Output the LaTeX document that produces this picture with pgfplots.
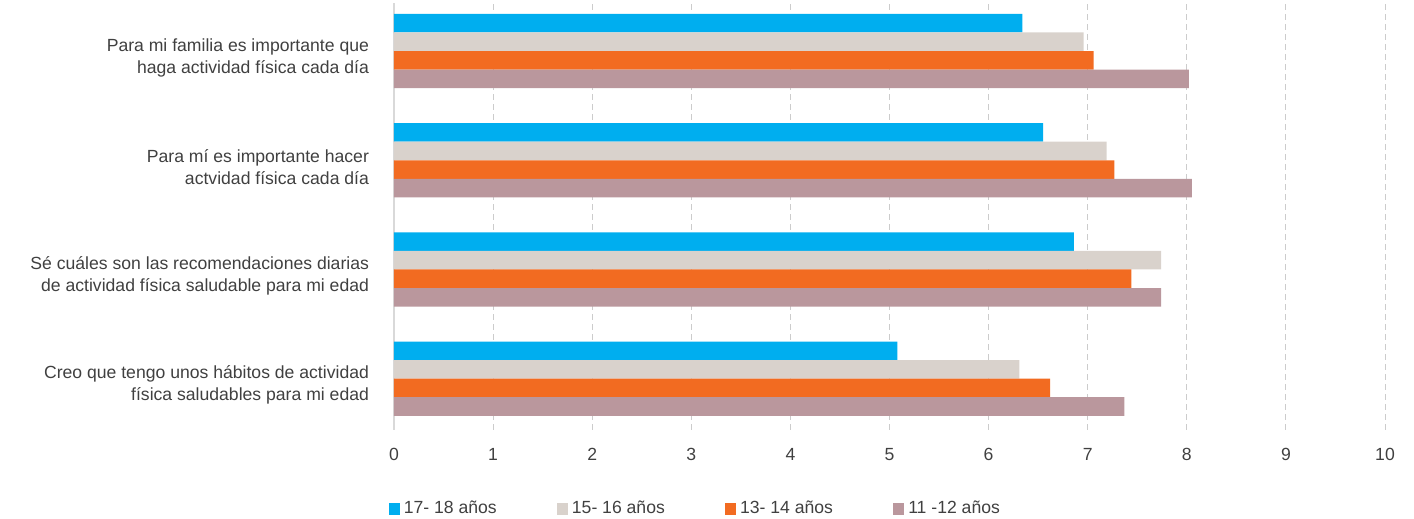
\documentclass[border=0pt]{standalone}
\usepackage{fontspec}
\setmainfont{Liberation Sans}
\usepackage{pgfplots}
\pgfplotsset{compat=1.18}
\definecolor{cBlue}{HTML}{00AEEF}
\definecolor{cBeige}{HTML}{D9D2CC}
\definecolor{cOrange}{HTML}{F26B21}
\definecolor{cMauve}{HTML}{BA979D}
\definecolor{cText}{HTML}{404040}
\begin{document}
\begin{tikzpicture}
\useasboundingbox (-197pt,-44.5pt) rectangle (510pt,215pt);
\begin{axis}[
  at={(0,0)}, anchor=south west,
  scale only axis,
  width=495.5pt, height=213.5pt,
  xbar, bar width=0.17,
  xmin=0, xmax=10,
  ymin=-0.47, ymax=3.44,
  xtick={1,2,...,10},
  extra x ticks={0},
  extra x tick style={major grid style={solid, draw=gray!30, line width=0.6pt}},
  ytick={0,1,2,3},
  yticklabels={{Creo que tengo unos hábitos de actividad\\física saludables para mi edad},
               {Sé cuáles son las recomendaciones diarias\\de actividad física saludable para mi edad},
               {Para mí es importante hacer\\actvidad física cada día},
               {Para mi familia es importante que\\haga actividad física cada día}},
  y tick label style={align=right, font=\fontsize{8.8}{11}\selectfont, text=cText, xshift=-9pt, yshift=-3.3pt},
  x tick label style={font=\fontsize{8.8}{10}\selectfont, text=cText, yshift=-5.5pt},
  /pgf/number format/assume math mode=true,
  major tick length=0pt,
  axis line style={draw=none},
  xmajorgrids,
  major grid style={densely dashed, draw=gray!40, line width=0.5pt},
  legend style={at={(0.305,-0.185)}, anchor=center, draw=none, fill=none,
     legend columns=4, font=\fontsize{8.8}{10}\selectfont, text=cText,
     /tikz/every even column/.append style={column sep=28pt}},
  legend image code/.code={\fill[#1] (0pt,-2.8pt) rectangle (5.6pt,2.8pt);},
  legend cell align=left,
]
\addplot[fill=cBlue, draw=none, bar shift=0.255] coordinates {(5.08,0) (6.86,1) (6.55,2) (6.34,3)};
\addlegendentry{17- 18 años}
\addplot[fill=cBeige, draw=none, bar shift=0.085] coordinates {(6.31,0) (7.74,1) (7.19,2) (6.96,3)};
\addlegendentry{15- 16 años}
\addplot[fill=cOrange, draw=none, bar shift=-0.085] coordinates {(6.62,0) (7.44,1) (7.27,2) (7.06,3)};
\addlegendentry{13- 14 años}
\addplot[fill=cMauve, draw=none, bar shift=-0.255] coordinates {(7.37,0) (7.74,1) (8.05,2) (8.02,3)};
\addlegendentry{11 -12 años}
\end{axis}
\end{tikzpicture}
\end{document}
